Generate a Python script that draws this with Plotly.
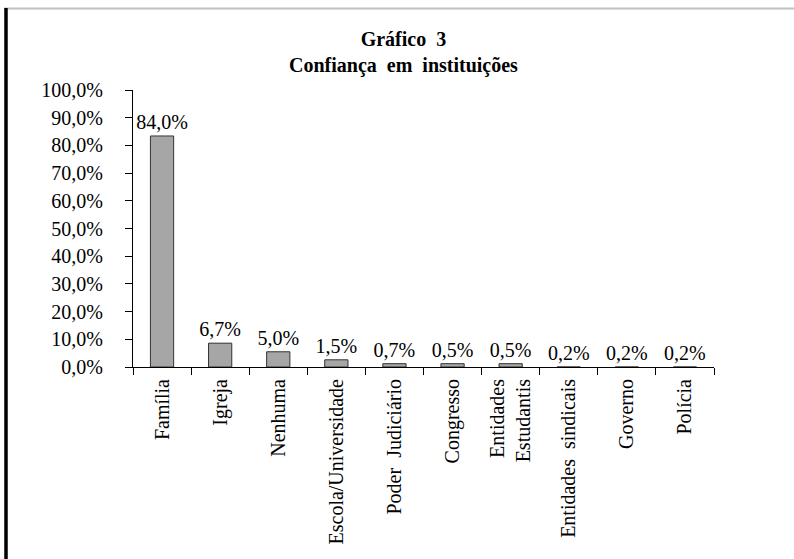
import plotly.graph_objects as go

categorias = ["Família", "Igreja", "Nenhuma", "Escola/Universidade",
              "Poder\u00a0 Judiciário", "Congresso", "Entidades<br>Estudantis",
              "Entidades\u00a0 sindicais", "Governo", "Polícia"]
# bar heights as drawn in the picture (percent)
alturas = [83.4, 8.6, 5.5, 2.6, 1.2, 1.2, 1.2, 0.0, 0.0, 0.0]
# value labels printed above the bars
rotulos = ["84,0%", "6,7%", "5,0%", "1,5%", "0,7%", "0,5%", "0,5%", "0,2%", "0,2%", "0,2%"]
y_ticks = [0, 10, 20, 30, 40, 50, 60, 70, 80, 90, 100]
y_ticktext = [f"{v},0%" for v in y_ticks]

FONT = "Liberation Serif, Times New Roman, serif"

# plot area in pixels: x 133..714, y 90..367
PL, PR, PT, PB = 133, 714, 90, 367
def px(x):
    return (x - PL) / (PR - PL)
def py(y):
    return (PB - y) / (PB - PT)

fig = go.Figure(go.Bar(
    x=categorias, y=alturas, text=rotulos,
    textposition="outside", constraintext="none", cliponaxis=False,
    textfont=dict(family=FONT, size=20, color="black"),
    marker=dict(color="#a6a6a6", line=dict(color="#333333", width=1)),
    width=0.4,
))

fig.update_layout(
    width=794, height=559,
    margin=dict(l=PL, r=794 - PR, t=PT, b=559 - PB, autoexpand=False),
    paper_bgcolor="white", plot_bgcolor="white",
    showlegend=False,
    font=dict(family=FONT, size=20, color="black"),
    annotations=[dict(
        text="<b>Gráfico\u00a0 3</b><br><b>Confiança\u00a0 em\u00a0 instituições</b>",
        xref="paper", yref="paper", x=px(403), y=1.0, yshift=11,
        xanchor="center", yanchor="bottom", showarrow=False,
        font=dict(family=FONT, size=20, color="black"),
    )],
    shapes=[
        dict(type="line", xref="paper", yref="paper",
             x0=px(4), x1=px(794), y0=py(8.5), y1=py(8.5),
             line=dict(color="#c0c0c0", width=2)),
        dict(type="line", xref="paper", yref="paper",
             x0=px(6), x1=px(6), y0=py(559), y1=py(8),
             line=dict(color="black", width=3.5)),
    ],
)

fig.update_xaxes(
    type="category", tickson="boundaries", ticks="outside", ticklen=7,
    tickcolor="black", showline=True, linecolor="black", linewidth=1,
    tickangle=-90, showgrid=False, ticklabelstandoff=3, automargin=False,
    tickfont=dict(family=FONT, size=20),
)
fig.update_yaxes(
    range=[0, 100], tickvals=y_ticks, ticktext=y_ticktext,
    ticks="outside", ticklen=7, tickcolor="black", showline=True,
    linecolor="black", linewidth=1, showgrid=False, zeroline=False,
    ticklabelstandoff=18, automargin=False, tickfont=dict(family=FONT, size=20),
)

fig.write_html("out.html", config={"displayModeBar": False},
               post_script="document.body.style.margin='0';")
